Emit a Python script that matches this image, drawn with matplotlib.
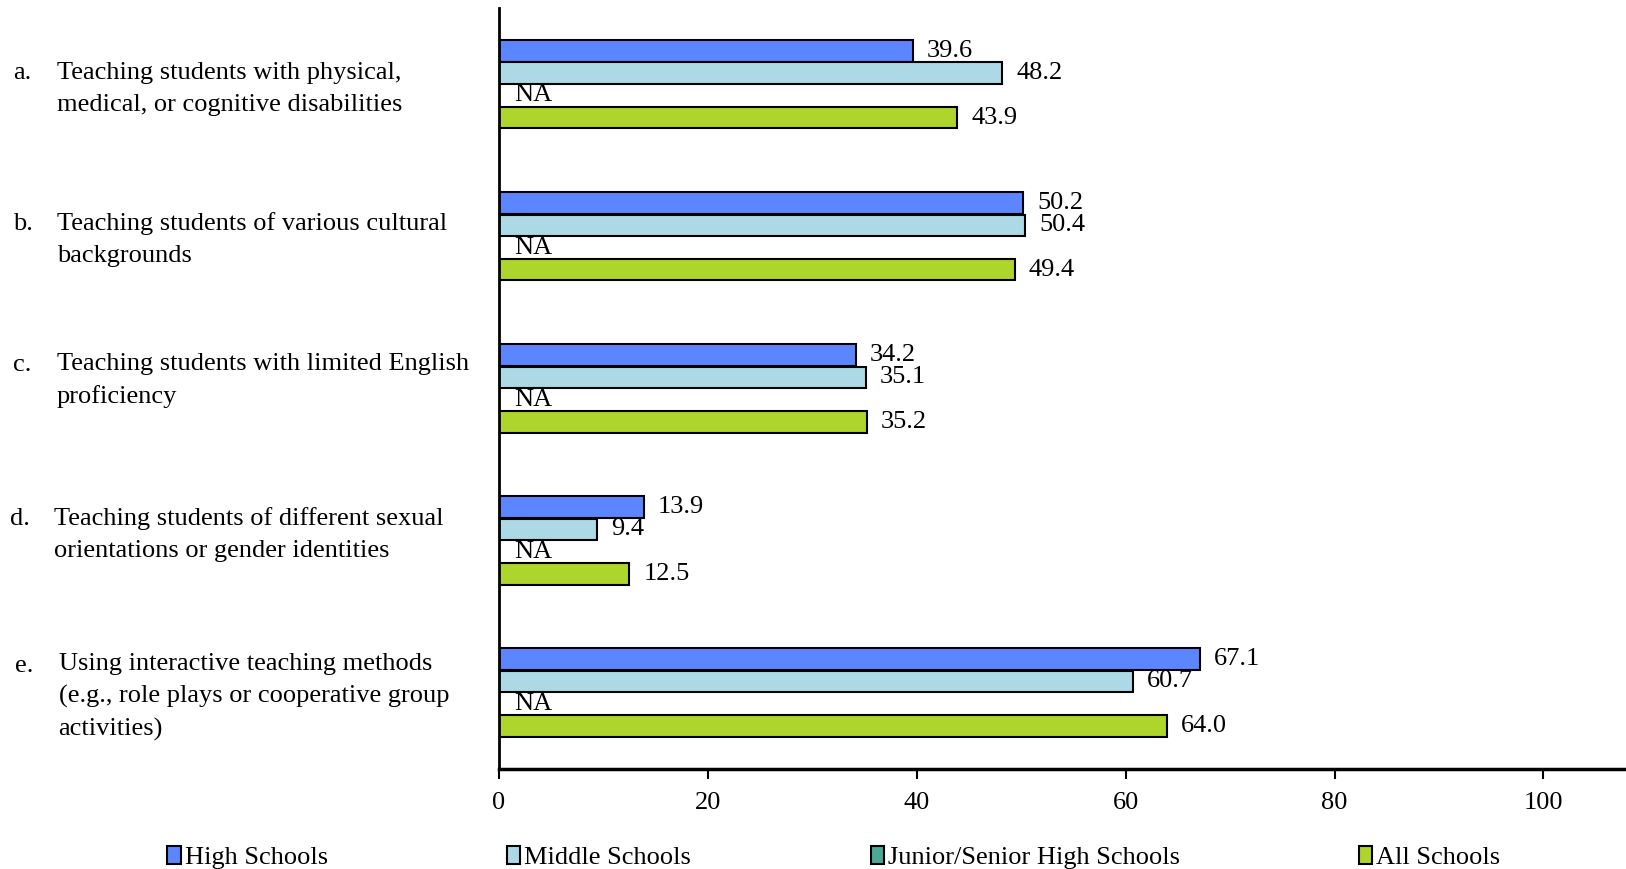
import numpy as np
import matplotlib.pyplot as plt

plt.rcParams['font.family'] = ['Liberation Serif', 'DejaVu Serif']

letters = ["a.", "b.", "c.", "d.", "e."]
items = [
    "Teaching students with physical,\nmedical, or cognitive disabilities",
    "Teaching students of various cultural\nbackgrounds",
    "Teaching students with limited English\nproficiency",
    "Teaching students of different sexual\norientations or gender identities",
    "Using interactive teaching methods\n(e.g., role plays or cooperative group\nactivities)",
]
series = ["High Schools", "Middle Schools", "Junior/Senior High Schools", "All Schools"]
high = [39.6, 50.2, 34.2, 13.9, 67.1]
middle = [48.2, 50.4, 35.1, 9.4, 60.7]
junior = [None, None, None, None, None]  # NA
all_schools = [43.9, 49.4, 35.2, 12.5, 64.0]
colors = ["#5B86FF", "#ADD8E6", "#4AAA96", "#AED52B"]

fs = 19

fig = plt.figure(figsize=(16.26, 8.69), dpi=100)
ax = fig.add_axes([0.3068, 0.1156, 0.6932, 0.8748])

pos = np.arange(len(items))
h = 0.146
handles = []
for k, (vals, col) in enumerate(zip([high, middle, junior, all_schools], colors)):
    y = pos + (k - 1.5) * h
    v = [0 if x is None else x for x in vals]
    b = ax.barh(y, v, height=h * 0.97, color=col, edgecolor='black', linewidth=1.5,
                label=series[k])
    handles.append(b)
    for yy, x in zip(y, vals):
        if x is None:
            ax.annotate("NA", (0, yy), xytext=(11, 0), textcoords='offset points',
                        va='center', ha='left', fontsize=fs)
        else:
            ax.annotate(f"{x:.1f}", (x, yy), xytext=(10, 0), textcoords='offset points',
                        va='center', ha='left', fontsize=fs)

ax.set_ylim(4.5, -0.5)
ax.set_xlim(0, 107.9)
ax.set_xticks([0, 20, 40, 60, 80, 100])
ax.set_yticks([])
ax.tick_params(axis='x', direction='out', length=7, width=1.5, labelsize=fs, pad=10)
for s in ['top', 'right']:
    ax.spines[s].set_visible(False)
ax.spines['left'].set_linewidth(2)
ax.spines['bottom'].set_linewidth(2.5)

label_shift = [0.03, 0.02, -0.05, -0.04, 0.03]
letter_x = [0.008, 0.008, 0.008, 0.006, 0.009]
text_x = [0.035, 0.035, 0.035, 0.033, 0.036]
for i in range(len(items)):
    yd = pos[i] + label_shift[i]
    yf = fig.transFigure.inverted().transform(ax.transData.transform((0, yd)))[1]
    nlines = items[i].count("\n")
    fig.text(letter_x[i], yf, letters[i] + "\n" * nlines + " ", fontsize=fs, va='center',
             ha='left', linespacing=1.56)
    fig.text(text_x[i], yf, items[i], fontsize=fs, va='center', ha='left', linespacing=1.56)

fig.legend(handles=handles, labels=series, loc='center left', bbox_to_anchor=(0.103, 0.013),
           ncol=4, frameon=False, fontsize=fs, handlelength=0.5, handleheight=0.7,
           handletextpad=0.15, columnspacing=6.8, borderpad=0, borderaxespad=0)

fig.savefig("out.png", dpi=100)
